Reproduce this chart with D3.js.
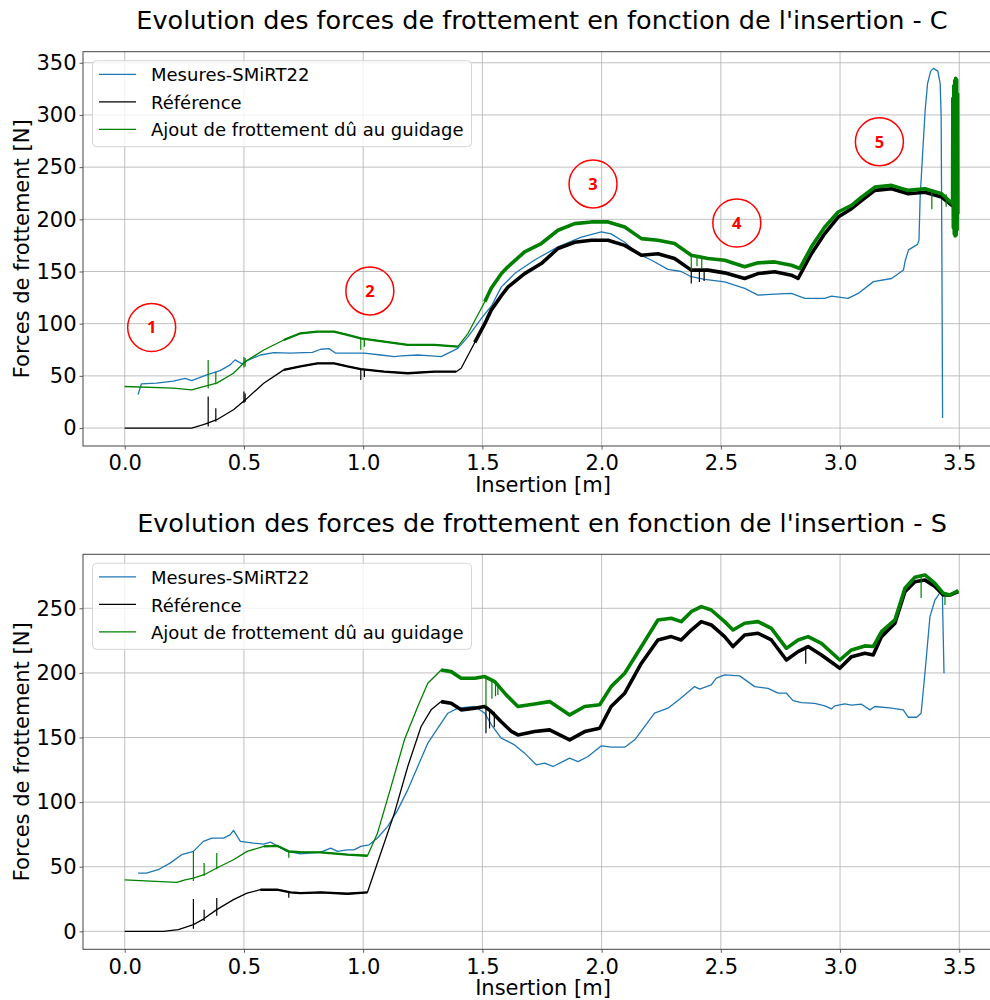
<!DOCTYPE html>
<html>
<head>
<meta charset="utf-8">
<script src="https://cdn.jsdelivr.net/npm/d3@7"></script>
<style>
  body { margin: 0; background: #fff; }
  text { font-family: "DejaVu Sans", sans-serif; }
</style>
</head>
<body>
<svg id="chart" width="990" height="1000"></svg>
<script>
// ---- data ----
const seriesNames = ["Mesures-SMiRT22", "Référence", "Ajout de frottement dû au guidage"];
const xTicks = [0, 0.5, 1.0, 1.5, 2.0, 2.5, 3.0, 3.5];
const yTicksC = [0, 50, 100, 150, 200, 250, 300, 350];
const yTicksS = [0, 50, 100, 150, 200, 250];

// case C
const mesuresC = [[0.056,32],[0.07,42.4],[0.133,43],[0.204,45],[0.253,47.5],[0.281,45.5],[0.344,51],[0.4,55],[0.442,60.5],[0.463,65.3],[0.492,61.5],[0.513,64.6],[0.569,70],[0.625,72.3],[0.695,71.7],[0.751,72.3],[0.787,72.6],[0.822,75.5],[0.857,76.1],[0.885,71.7],[0.948,71.7],[1.004,71.7],[1.074,70],[1.13,68.5],[1.159,69.1],[1.229,70],[1.285,69.1],[1.327,68.5],[1.397,76.4],[1.44,87.6],[1.496,105],[1.538,117],[1.579,135],[1.635,148],[1.719,161],[1.817,173.6],[1.915,183],[1.999,188],[2.04,186],[2.097,178],[2.152,167],[2.208,161],[2.278,152],[2.334,150],[2.376,145],[2.432,142.4],[2.516,140],[2.6,133.8],[2.656,127.4],[2.726,128.3],[2.796,129],[2.852,124.2],[2.936,124.2],[2.964,126.4],[3.034,124.2],[3.076,129],[3.14,140.3],[3.216,143.3],[3.266,151.5],[3.273,160],[3.287,170.7],[3.325,176],[3.331,180],[3.336,221.7],[3.347,266],[3.357,304.7],[3.367,330],[3.38,342],[3.392,344.6],[3.41,342],[3.42,330],[3.424,298],[3.427,170.7],[3.43,9.6]];
const referenceC = [[0,0],[0.281,0],[0.33,3.2],[0.348,4.8],[0.386,8],[0.456,17.5],[0.506,27],[0.583,43],[0.667,55.7],[0.737,59],[0.808,62],[0.878,62],[0.934,59],[0.99,56.4],[1.088,54],[1.187,52.5],[1.299,54],[1.39,54],[1.411,57.3],[1.468,82],[1.51,100],[1.537,113],[1.58,127],[1.607,135],[1.677,148],[1.747,157.6],[1.817,172],[1.887,178],[1.957,180],[2.027,180],[2.097,175],[2.167,165.6],[2.236,167],[2.306,162.4],[2.376,151.3],[2.446,151.3],[2.516,148.7],[2.6,143.3],[2.656,148],[2.726,149.7],[2.796,146.5],[2.824,143.3],[2.88,167],[2.936,186.3],[2.992,202.2],[3.048,210.2],[3.09,218],[3.146,227.7],[3.216,229.3],[3.286,224.5],[3.356,226],[3.426,221.3],[3.472,213]];
const guidageC = [[0,39.8],[0.204,38.2],[0.281,36.6],[0.33,39.8],[0.386,43],[0.456,52.5],[0.506,63.7],[0.583,74.8],[0.667,84.4],[0.737,90.8],[0.808,92.4],[0.878,92.4],[0.934,89.2],[0.99,86],[1.088,82.8],[1.187,79.6],[1.299,79.6],[1.397,78],[1.44,90.8],[1.51,121],[1.537,134],[1.58,148],[1.607,154.5],[1.677,168.8],[1.747,176.8],[1.817,189.5],[1.887,195.9],[1.957,197.5],[2.027,197.5],[2.097,192.7],[2.167,181.5],[2.236,180],[2.306,176.8],[2.376,165.6],[2.446,162.4],[2.516,160.8],[2.6,154.5],[2.656,158.3],[2.726,159.2],[2.796,156],[2.831,152.9],[2.88,173.6],[2.936,192.7],[2.992,207],[3.048,213.4],[3.09,221.3],[3.146,230.9],[3.216,232.5],[3.286,227.7],[3.356,229.3],[3.426,224.5],[3.47,215],[3.472,215],[3.473,316],[3.475,192],[3.477,328],[3.479,186],[3.481,333],[3.483,184],[3.485,335],[3.487,185],[3.489,334],[3.491,190],[3.493,320],[3.494,205]];
// isolated spikes: [x, low, high]
const spikesRefC = [[0.35,1.6,30.2],[0.382,6,19],[0.5,24,35],[0.505,25,33],[0.99,46,57],[1.005,49,56],[2.376,138.5,152],[2.41,140,150],[2.43,141,150]];
const spikesGuiC = [[0.35,38,65.3],[0.382,42,54],[0.5,58,68],[0.505,59,67],[0.99,75,86],[1.005,78,85],[2.376,151,166],[2.4,155,164],[2.42,153,163],[3.385,209.6,226],[3.445,212,224]];
const zonesC = [{label:"1",x:0.113,y:96.3},{label:"2",x:1.028,y:131.4},{label:"3",x:1.964,y:233.9},{label:"4",x:2.567,y:196.5},{label:"5",x:3.165,y:274.4}];

// case S
const mesuresS = [[0.056,45.1],[0.091,45.1],[0.14,47.7],[0.19,52.8],[0.239,59.3],[0.288,61.9],[0.33,69.6],[0.365,72.2],[0.414,72.2],[0.442,74.7],[0.456,78.1],[0.485,69.6],[0.541,68.3],[0.583,67.5],[0.611,69],[0.639,66.2],[0.681,61.9],[0.737,60],[0.822,61.3],[0.864,64.4],[0.892,61.9],[0.934,63.1],[0.962,63.1],[0.99,65.7],[1.025,67],[1.06,72.2],[1.103,81.2],[1.145,94],[1.187,109.5],[1.229,127.6],[1.271,145.6],[1.313,157.2],[1.355,168.8],[1.397,172.7],[1.468,174],[1.51,168.8],[1.538,159.8],[1.579,149.5],[1.635,144.3],[1.677,137.9],[1.726,128.9],[1.761,130.2],[1.796,127.6],[1.866,134],[1.901,131.4],[1.943,135.3],[1.999,143.6],[2.04,142.5],[2.097,142.5],[2.139,148.2],[2.18,158.5],[2.222,168.8],[2.278,172.7],[2.327,179.6],[2.39,189.4],[2.411,187.4],[2.46,190.7],[2.481,195.9],[2.516,198.5],[2.579,197.7],[2.642,189.4],[2.698,188.1],[2.74,184.3],[2.775,184.3],[2.803,178.6],[2.838,177],[2.894,176.5],[2.936,174.5],[2.964,172.2],[2.978,174.5],[3.02,176],[3.048,175],[3.09,175.8],[3.125,171.4],[3.146,174],[3.216,172.7],[3.265,171.4],[3.286,165.7],[3.321,165.7],[3.34,168.8],[3.356,199.7],[3.377,243.6],[3.398,256.4],[3.419,262.1],[3.429,261.6],[3.436,199.7]];
const referenceS = [[0,0],[0.162,0],[0.225,1.3],[0.288,5.2],[0.33,9.5],[0.386,16.8],[0.456,24.5],[0.513,29.6],[0.569,32.2],[0.639,32.2],[0.695,30.2],[0.737,29.6],[0.822,30.2],[0.934,29.1],[1.018,30.2],[1.074,60.6],[1.131,91.5],[1.187,127.6],[1.243,158.5],[1.285,171.4],[1.327,177.8],[1.369,176.5],[1.411,171.4],[1.468,172.7],[1.51,174],[1.538,170],[1.58,162],[1.62,155],[1.649,152],[1.719,154.6],[1.782,155.9],[1.866,148.2],[1.929,154.6],[1.992,157.2],[2.04,174],[2.097,184.3],[2.167,207.5],[2.236,225.5],[2.292,228.1],[2.334,225.5],[2.376,233.2],[2.418,239.7],[2.46,237.1],[2.516,228.1],[2.551,220.4],[2.6,229.4],[2.656,230.7],[2.712,225.5],[2.775,210],[2.824,216.5],[2.866,220.4],[2.922,213.9],[2.999,203.6],[3.048,212.6],[3.104,215.2],[3.139,213.9],[3.174,228.1],[3.23,238.4],[3.272,262.9],[3.314,270.6],[3.356,271.9],[3.398,266.8],[3.433,260.3],[3.461,260.3],[3.496,262.9]];
const guidageS = [[0,39.9],[0.218,37.9],[0.253,39.9],[0.288,41.2],[0.333,43.8],[0.386,49],[0.456,55.4],[0.513,61.9],[0.583,65.7],[0.639,66.2],[0.688,61.9],[0.737,61.3],[0.822,61.1],[0.934,59.3],[1.018,58.5],[1.06,76],[1.117,112],[1.173,148.2],[1.229,174],[1.271,192],[1.327,202.3],[1.369,201],[1.411,195.9],[1.468,195.9],[1.51,197.2],[1.552,193.3],[1.6,183],[1.649,174],[1.719,176],[1.782,177.8],[1.866,167.5],[1.929,174],[1.992,175.3],[2.04,189.4],[2.097,199.7],[2.167,220.4],[2.236,241],[2.292,242.3],[2.334,239.7],[2.376,247.4],[2.418,251.3],[2.46,248.7],[2.516,239.7],[2.551,233.2],[2.6,238.4],[2.656,239.7],[2.712,234.5],[2.775,219],[2.824,225.5],[2.866,228.1],[2.922,222.9],[2.999,210],[3.048,217.8],[3.104,220.9],[3.139,220.4],[3.174,232],[3.23,241],[3.272,265.5],[3.314,274],[3.356,275.8],[3.398,269.3],[3.433,261.6],[3.461,260.3],[3.496,263.7]];
const spikesRefS = [[0.288,2,25],[0.333,8,16.8],[0.386,12,25.8],[0.688,26,31],[1.515,153.4,174],[1.53,157,172],[1.55,158,170],[2.856,207,221]];
const spikesGuiS = [[0.288,39,61.9],[0.333,43,52.8],[0.386,48,60.6],[0.688,57,62],[1.515,174,197],[1.54,180,194],[1.555,182,193],[1.565,183,192],[3.34,258,274],[3.44,252.6,262]];

// ---- drawing ----
const colors = ["#1f77b4", "#000000", "#008000"];
const svg = d3.select("#chart");
const x = d3.scaleLinear().domain([-0.175, 3.675]).range([83, 1001]);

function drawPanel(p) {
  const y = d3.scaleLinear().domain(p.yDomain).range([p.bottom, p.top]);
  const g = svg.append("g");

  g.append("defs").append("clipPath").attr("id", p.id)
    .append("rect").attr("x", 83).attr("y", p.top)
    .attr("width", 1001 - 83).attr("height", p.bottom - p.top);

  // grid
  g.append("g").selectAll("line").data(xTicks).join("line")
    .attr("x1", d => x(d)).attr("x2", d => x(d))
    .attr("y1", p.top).attr("y2", p.bottom)
    .attr("stroke", "#b0b0b0").attr("stroke-width", 0.8);
  g.append("g").selectAll("line").data(p.yTicks).join("line")
    .attr("x1", 83).attr("x2", 1001)
    .attr("y1", d => y(d)).attr("y2", d => y(d))
    .attr("stroke", "#b0b0b0").attr("stroke-width", 0.8);

  // axes
  const xa = g.append("g").attr("transform", `translate(0,${p.bottom})`)
    .call(d3.axisBottom(x).tickValues(xTicks).tickFormat(d3.format(".1f")).tickSize(3.5).tickPadding(6).tickSizeOuter(0));
  const ya = g.append("g").attr("transform", "translate(83,0)")
    .call(d3.axisLeft(y).tickValues(p.yTicks).tickFormat(d3.format("d")).tickSize(3.5).tickPadding(3).tickSizeOuter(0));
  [xa, ya].forEach(a => {
    a.select(".domain").remove();
    a.selectAll("text").attr("font-size", 21).attr("fill", "#000")
      .style("font-family", "'DejaVu Sans', sans-serif");
    a.selectAll("line").attr("stroke", "#333").attr("stroke-width", 0.8);
  });

  // series
  const line = d3.line().x(d => x(d[0])).y(d => y(d[1]));
  const plot = g.append("g").attr("clip-path", `url(#${p.id})`);
  const series = [p.mes, p.ref, p.gui];
  series.forEach((s, i) => {
    plot.append("path").datum(s).attr("d", line)
      .attr("fill", "none").attr("stroke", colors[i]).attr("stroke-width", 1.3)
      .attr("stroke-linejoin", "round");
  });
  // noisy bands of the simulated curves (drawn thicker)
  [[1, p.ref], [2, p.gui]].forEach(([i, s]) => {
    p.bands.forEach(([a, b, w]) => {
      const part = s.filter(d => d[0] >= a && d[0] <= b);
      plot.append("path").datum(part).attr("d", line)
        .attr("fill", "none").attr("stroke", colors[i]).attr("stroke-width", w)
        .attr("stroke-linejoin", "round");
    });
  });
  [[1, p.spRef], [2, p.spGui]].forEach(([i, sp]) => {
    plot.append("g").selectAll("line").data(sp).join("line")
      .attr("x1", d => x(d[0])).attr("x2", d => x(d[0]))
      .attr("y1", d => y(d[1])).attr("y2", d => y(d[2]))
      .attr("stroke", colors[i]).attr("stroke-width", 1.2);
  });

  // zone markers
  const z = g.append("g").selectAll("g").data(p.zones).join("g")
    .attr("transform", d => `translate(${x(d.x)},${y(d.y)})`);
  z.append("circle").attr("r", 24).attr("fill", "none").attr("stroke", "#ff0000").attr("stroke-width", 1.5);
  z.append("text").text(d => d.label).attr("text-anchor", "middle").attr("dy", "0.36em")
    .attr("fill", "#ff0000").attr("font-weight", "bold").attr("font-size", 16.5)
    .style("font-family", "'Open Sans', sans-serif");

  // spines (right one falls outside the picture)
  g.append("rect").attr("x", 83).attr("y", p.top).attr("width", 1001 - 83).attr("height", p.bottom - p.top)
    .attr("fill", "none").attr("stroke", "#444").attr("stroke-width", 1);

  // legend
  const lg = g.append("g").attr("transform", `translate(92.5,${p.top + 9})`);
  lg.append("rect").attr("width", 379).attr("height", 86).attr("rx", 4)
    .attr("fill", "#fff").attr("fill-opacity", 0.8).attr("stroke", "#d6d6d6").attr("stroke-width", 1);
  seriesNames.forEach((n, i) => {
    const yy = 13.6 + i * 27.5;
    lg.append("line").attr("x1", 6.5).attr("x2", 43.5).attr("y1", yy).attr("y2", yy)
      .attr("stroke", colors[i]).attr("stroke-width", 1.3);
    lg.append("text").attr("x", 58.5).attr("y", yy + 7.2).attr("font-size", 18).text(n);
  });

  // titles
  g.append("text").attr("x", 542).attr("y", p.top - 22.4).attr("text-anchor", "middle")
    .attr("font-size", 25.5).text(p.title);
  g.append("text").attr("x", 543).attr("y", p.bottom + 45.7).attr("text-anchor", "middle")
    .attr("font-size", 21).text("Insertion [m]");
  g.append("text").attr("transform", `translate(29,${(p.top + p.bottom) / 2}) rotate(-90)`)
    .attr("text-anchor", "middle").attr("font-size", 21).text("Forces de frottement [N]");
}

drawPanel({
  id: "clipC", title: "Evolution des forces de frottement en fonction de l'insertion - C",
  top: 51.7, bottom: 446, yDomain: [-17.2, 360.6], yTicks: yTicksC,
  mes: mesuresC, ref: referenceC, gui: guidageC, spRef: spikesRefC, spGui: spikesGuiC,
  zones: zonesC, bands: [[0.6, 1.4, 2.3], [1.45, 3.5, 3.6]]
});
drawPanel({
  id: "clipS", title: "Evolution des forces de frottement en fonction de l'insertion - S",
  top: 554.3, bottom: 949.3, yDomain: [-13.9, 291.8], yTicks: yTicksS,
  mes: mesuresS, ref: referenceS, gui: guidageS, spRef: spikesRefS, spGui: spikesGuiS,
  zones: [], bands: [[0.55, 1.02, 2.3], [1.3, 3.5, 3.6]]
});
</script>
</body>
</html>
